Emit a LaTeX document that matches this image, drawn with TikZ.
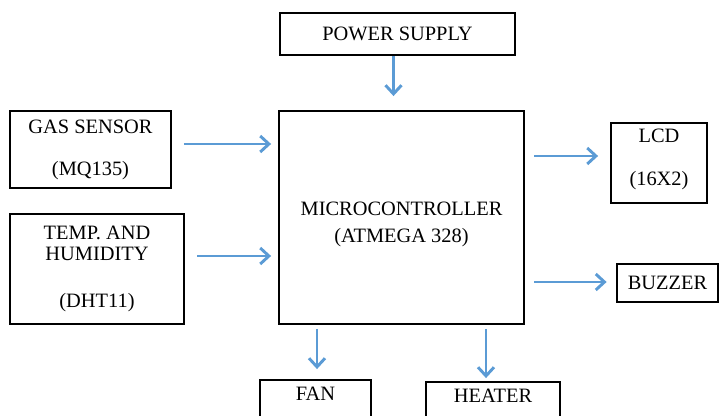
\documentclass[tikz,border=0pt]{standalone}
\usepackage{fontspec}
\setmainfont{Liberation Serif}
\usetikzlibrary{arrows.meta}
\definecolor{flowblue}{RGB}{91,155,213}
\tikzset{
  blk/.style={draw, line width=1.4pt, align=center, inner sep=0pt},
  flow/.style={flowblue, line width=2.2pt, -{Straight Barb[length=6.5pt,width=12pt]}},
}
\begin{document}
\begin{tikzpicture}[x=0.75pt, y=-0.75pt, font=\fontsize{15.3}{15.75}\selectfont]
			\clip (0,0) rectangle (720,416);
			% blocks
			\node[blk, minimum width=176.25pt, minimum height=31.5pt] (power) at (397.5,34) {POWER SUPPLY};
			\node[blk, minimum width=120.75pt, minimum height=57.75pt] (gas) at (90.5,149.5) {GAS SENSOR\\[15.75pt](MQ135)};
			\node[blk, minimum width=130.5pt, minimum height=82.5pt] (temp) at (97,269) {TEMP. AND\\HUMIDITY\\[19.5pt](DHT11)};
			\node[blk, minimum width=183.75pt, minimum height=159.75pt] (mcu) at (401.5,217.5) {\rule{0pt}{20pt}MICROCONTROLLER\\[4.5pt](ATMEGA 328)};
			\node[blk, minimum width=72pt, minimum height=60pt] (lcd) at (659,163) {LCD\\[16.5pt](16X2)\rule[-9pt]{0pt}{9pt}};
			\node[blk, minimum width=75.75pt, minimum height=28.5pt] (buzzer) at (667.5,283) {BUZZER};
			\node[blk, minimum width=83.25pt, minimum height=37.5pt] (fan) at (315.5,405) {};
			\node (fantxt) at (315.5,394) {FAN};
			\node[blk, minimum width=100.5pt, minimum height=37.5pt] (heater) at (493,407) {};
			\node (heatertxt) at (493,396) {HEATER};
			% connections
			\draw[flow, shorten >=10.5pt] (power.south -| 393.5,0) -- (mcu.north -| 393.5,0);
			\draw[flow, shorten <=9pt, shorten >=5.25pt] (gas.east |- 0,144) -- (mcu.west |- 0,144);
			\draw[flow, shorten <=9.4pt, shorten >=5.25pt] (temp.east |- 0,256) -- (mcu.west |- 0,256);
			\draw[flow, shorten <=7.1pt, shorten >=9pt] (mcu.east |- 0,156) -- (lcd.west |- 0,156);
			\draw[flow, shorten <=7.1pt, shorten >=7.1pt] (mcu.east |- 0,282) -- (buzzer.west |- 0,282);
			\draw[flow, shorten <=3pt, shorten >=7.5pt] (mcu.south -| 317,0) -- (fan.north -| 317,0);
			\draw[flow, shorten <=3pt, shorten >=2.25pt] (mcu.south -| 486,0) -- (heater.north -| 486,0);
		\end{tikzpicture}
\end{document}
